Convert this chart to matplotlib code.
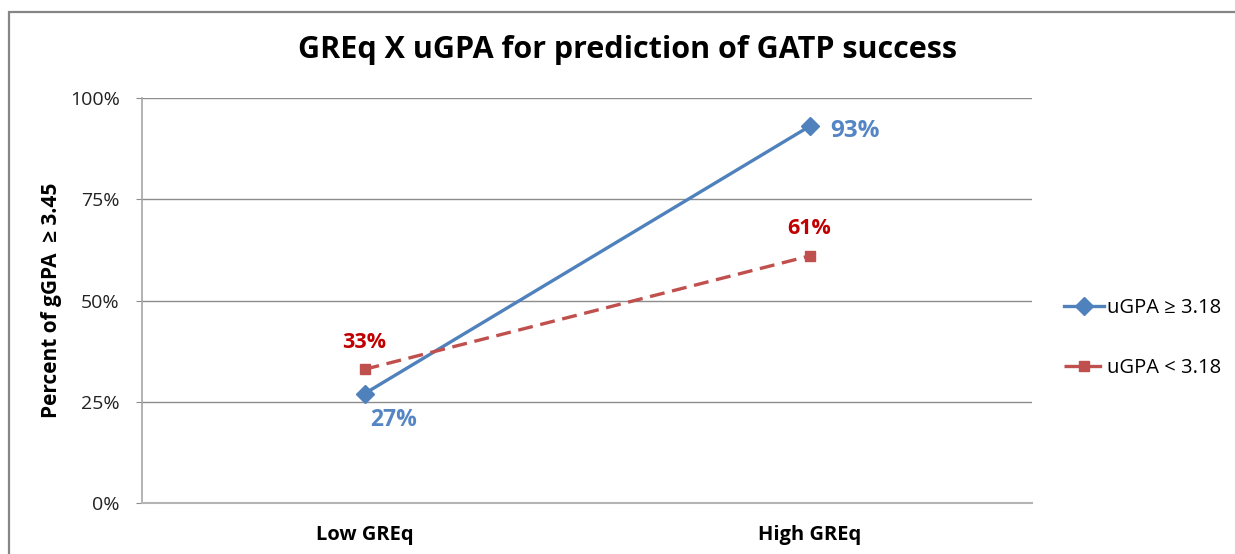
import matplotlib
matplotlib.use("Agg")
import matplotlib.pyplot as plt
from matplotlib.patches import Rectangle
from matplotlib.ticker import PercentFormatter

categories = ["Low GREq", "High GREq"]
series_names = ["uGPA \u2265 3.18", "uGPA < 3.18"]
high_ugpa = [27, 93]
low_ugpa = [33, 61]
yticks = [0, 25, 50, 75, 100]

FONT = ["Open Sans", "DejaVu Sans"]
plt.rcParams["font.family"] = FONT

fig = plt.figure(figsize=(12.35, 5.54), dpi=100)
W, H = 1235, 554

def fx(px):
    return px / W

def fy(py):
    return 1 - py / H

# outer chart border
fig.patches.append(Rectangle((fx(9), fy(560)), fx(1240) - fx(9), fy(12) - fy(560),
                             transform=fig.transFigure, fill=False,
                             edgecolor="#868686", linewidth=1.6, zorder=0))

ax = fig.add_axes([fx(142), fy(503), fx(1032) - fx(142), fy(98) - fy(503)])
x = list(range(len(categories)))

blue = "#4F81BD"
red = "#C0504D"

l1, = ax.plot(x, high_ugpa, color=blue, lw=2.4, marker="D", markersize=9.5,
              label=series_names[0], zorder=3)
l2, = ax.plot(x, low_ugpa, color=red, lw=2.4, marker="s", markersize=7.5,
              dashes=(4.5, 2.3), label=series_names[1], zorder=3)

ax.set_xlim(-0.5, 1.5)
ax.set_ylim(0, 100)
ax.set_yticks(yticks)
ax.yaxis.set_major_formatter(PercentFormatter(decimals=0))
ax.grid(axis="y", color="#8C8C8C", lw=1.0)
ax.set_axisbelow(True)
ax.set_xticks(x)
ax.set_xticklabels(categories, fontsize=14.5, fontweight="bold")
ax.tick_params(axis="x", length=0, pad=16)
ax.tick_params(axis="y", length=4, color="#8C8C8C", labelsize=14,
               labelcolor="#222222", pad=12)
for s in ["top", "right"]:
    ax.spines[s].set_visible(False)
ax.spines["left"].set_color("#A6A6A6")
ax.spines["bottom"].set_color("#B4B4B4")
ax.spines["left"].set_linewidth(1.2)
ax.spines["bottom"].set_linewidth(1.5)

ax.set_ylabel("Percent of gGPA  \u2265 3.45", fontsize=15, fontweight="bold",
              labelpad=6)

# data labels
lab_blue = "#5585C5"
lab_red = "#C00000"
ax.annotate(f"{high_ugpa[0]}%", (x[0], high_ugpa[0]), xytext=(21, -19),
            textcoords="offset points", ha="center", va="center",
            color=lab_blue, fontsize=16.5, fontweight="bold")
ax.annotate(f"{high_ugpa[1]}%", (x[1], high_ugpa[1]), xytext=(33, -3.6),
            textcoords="offset points", ha="center", va="center",
            color=lab_blue, fontsize=17.5, fontweight="bold")
ax.annotate(f"{low_ugpa[0]}%", (x[0], low_ugpa[0]), xytext=(0, 19.5),
            textcoords="offset points", ha="center", va="center",
            color=lab_red, fontsize=15.5, fontweight="bold")
ax.annotate(f"{low_ugpa[1]}%", (x[1], low_ugpa[1]), xytext=(0, 20),
            textcoords="offset points", ha="center", va="center",
            color=lab_red, fontsize=15.5, fontweight="bold")

fig.text(fx(628), fy(50), "GREq X uGPA for prediction of GATP success",
         ha="center", va="center", fontsize=22, fontweight="bold")

fig.legend(handles=[l1, l2], loc="center left",
           bbox_to_anchor=(fx(1046), fy(338)), frameon=False, fontsize=14.5,
           handlelength=2.0, handletextpad=0.15, labelspacing=1.95)

fig.savefig("out.png", dpi=100)
